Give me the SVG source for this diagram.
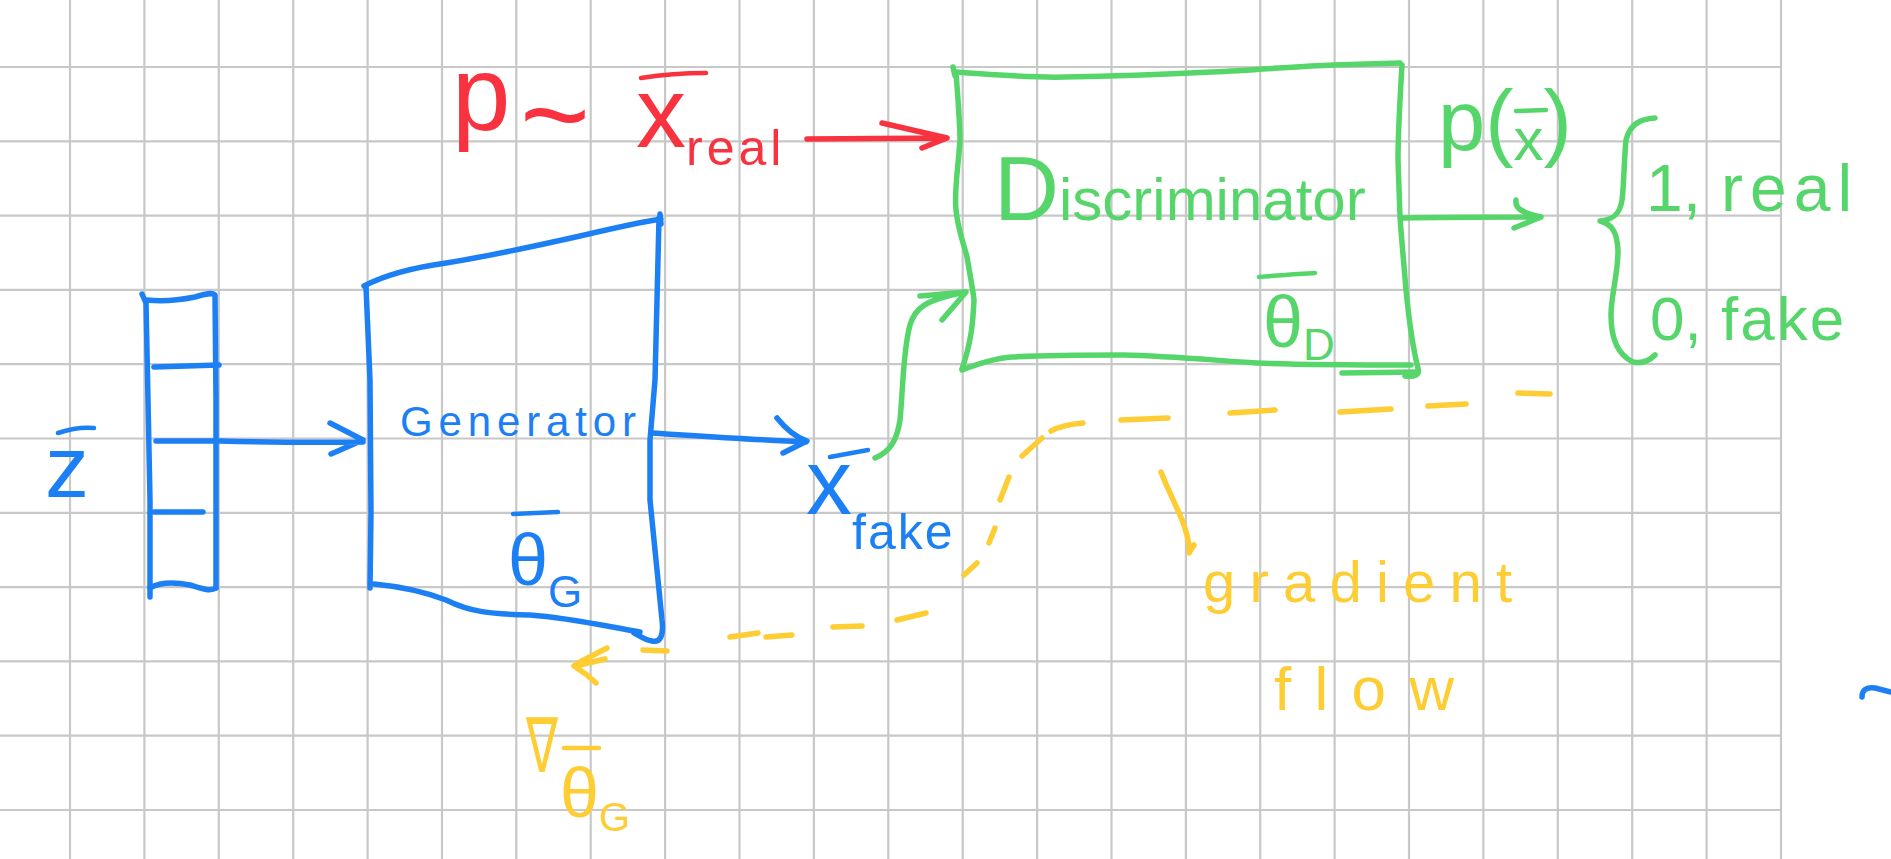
<svg xmlns="http://www.w3.org/2000/svg" width="1891" height="859" viewBox="0 0 1891 859">
<style>
.grid{stroke:#c8c8c8;stroke-width:2.2;fill:none}
.ln{fill:none;stroke-width:5.5;stroke-linecap:round;stroke-linejoin:round}
.blue{stroke:#1c80f4}
.red{stroke:#f8323f}
.green{stroke:#56d66a}
.yellow{stroke:#fdcd33}
.t{font-family:"Liberation Sans","DejaVu Sans",sans-serif;font-style:normal}
.tb{fill:#1c80f4}
.tr{fill:#f8323f}
.tg{fill:#56d66a}
.ty{fill:#fdcd33}
.bar{fill:none;stroke-width:4.5;stroke-linecap:round}
</style>
<rect width="1891" height="859" fill="#ffffff"/>
<g id="grid">
<path class="grid" d="M70,0V859M144.4,0V859M218.8,0V859M293.2,0V859M367.6,0V859M442,0V859M516.3,0V859M590.7,0V859M665.1,0V859M739.5,0V859M813.9,0V859M888.3,0V859M962.7,0V859M1037.1,0V859M1111.5,0V859M1185.9,0V859M1260.2,0V859M1334.6,0V859M1409,0V859M1483.4,0V859M1557.8,0V859M1632.2,0V859M1706.6,0V859M1781,0V859
M0,67H1781M0,141.3H1781M0,215.6H1781M0,289.9H1781M0,364.2H1781M0,438.5H1781M0,512.8H1781M0,587.1H1781M0,661.4H1781M0,735.7H1781M0,810H1781"/>
</g>

<g id="z-vector">
<path class="ln blue" d="M142,294 L146,303 L148,400 L150,500 L150,597"/>
<path class="ln blue" d="M147,300 C165,302 180,300 195,297 C205,294 212,292 215,295 L216,400 L216,500 L216,588"/>
<path class="ln blue" d="M150,588 C160,582 175,582 190,585 C200,588 210,592 216,588"/>
<path class="ln blue" d="M154,367 L219,365"/>
<path class="ln blue" d="M154,512 L203,512"/>
<path class="bar blue" d="M58,433 C70,429 82,427 94,428"/>
<text class="t tb" x="67" y="497" font-size="88" text-anchor="middle">z</text>
</g>

<g id="generator">
<path class="ln blue" d="M364,286 C385,275 410,268 446,263 C490,256 540,245 580,236 C610,229 640,222 661,219 M660,214 L661,224"/>
<path class="ln blue" d="M366,287 L370,380 L371,513 L370,588"/>
<path class="ln blue" d="M659,218 L657,300 L655,380 L650,440 L650,500 L656,560 L662,620 C664,636 660,643 652,641 C645,640 640,636 634,633"/>
<path class="ln blue" d="M374,584 C395,586 420,590 446,600 C470,612 490,614 530,615 C570,618 600,625 640,632"/>
<text class="t tb" x="400" y="436" font-size="42" textLength="236" lengthAdjust="spacing">Generator</text>
<path class="bar blue" d="M513,514 L558,512"/>
<text class="t tb" x="508" y="585" font-size="72">θ<tspan font-size="44" dy="22">G</tspan></text>
</g>

<g id="x-fake">
<path class="bar blue" d="M830,457 L868,450"/>
<text class="t tb" x="806" y="514" font-size="92">x<tspan font-size="50" dy="35" letter-spacing="2">fake</tspan></text>
</g>

<g id="x-real">
<text class="t tr" x="452" y="130" font-size="105">p</text>
<text class="t tr" x="520" y="156" font-size="120">~</text>
<path class="bar red" d="M641,78 C660,75 685,73 706,73"/>
<text class="t tr" x="636" y="147" font-size="100">x<tspan font-size="50" dy="18" letter-spacing="4">real</tspan></text>
</g>

<g id="discriminator">
<path class="ln green" d="M954,72 C1000,75 1030,78 1065,77 C1120,76 1170,74 1212,72 C1260,70 1300,66 1333,65 L1400,63 M953,67 L955,76"/>
<path class="ln green" d="M1402,65 C1400,100 1398,130 1398,160 L1400,217 C1402,245 1404,265 1406,290 C1409,320 1412,345 1418,368 C1420,375 1415,377 1405,376"/>
<path class="ln green" d="M962,370 C980,363 995,358 1012,357 C1050,355 1090,355 1123,355 C1170,356 1210,360 1257,363 C1300,365 1360,365 1411,365 M1342,373 L1416,372"/>
<path class="ln green" d="M956,72 C958,100 960,125 960,140 C958,170 954,190 956,210 C958,230 964,245 967,257 C971,280 974,297 974,300 C973,320 972,340 962,369"/>
<text class="t tg" x="994" y="220" font-size="60"><tspan font-size="90">D</tspan>iscriminator</text>
<path class="bar green" d="M1259,277 C1280,275 1300,274 1315,273"/>
<text class="t tg" x="1263" y="347" font-size="72">θ<tspan font-size="44" dy="13">D</tspan></text>
</g>

<g id="output">
<text class="t tg" x="1438" y="150" font-size="85">p(<tspan font-size="60" dy="10">x</tspan><tspan font-size="85" dy="-10">)</tspan></text>
<path class="bar green" d="M1516,111 L1546,110"/>
<path class="ln green" d="M1655,118 C1640,119 1630,124 1626,140 C1624,160 1624,185 1622,200 C1620,215 1612,220 1600,221 C1612,224 1617,232 1618,250 C1618,275 1611,295 1611,315 C1611,340 1618,355 1633,362 C1642,364 1650,360 1655,355"/>
<text class="t tg" x="1646" y="211" font-size="66">1, <tspan x="1721" letter-spacing="7">real</tspan></text>
<text class="t tg" x="1650" y="340" font-size="62">0, <tspan x="1721" letter-spacing="2">fake</tspan></text>
</g>

<g id="gradient-label">
<text class="t ty" x="1203" y="602" font-size="58" textLength="309" lengthAdjust="spacing">gradient</text>
<text class="t ty" x="1274" y="710" font-size="62" textLength="180" lengthAdjust="spacing">flow</text>
</g>

<g id="grad-theta-g">
<path class="bar yellow" d="M564,748 L599,748"/>
<text class="t ty" x="526" y="772" font-size="76"><tspan textLength="32" lengthAdjust="spacingAndGlyphs">∇</tspan><tspan x="560" y="817" font-size="70">θ</tspan><tspan font-size="40" dy="14">G</tspan></text>
</g>

<g id="connectors">
<path class="ln blue" d="M156,441 L220,441 C260,442 300,443 363,442 M330,423 L363,440 L331,454"/>
<path class="ln blue" d="M652,433 C700,436 760,440 806,442 M777,418 C785,428 795,437 807,441 L783,453"/>
<path class="ln green" d="M875,458 C890,452 897,440 900,420 C903,390 903,350 910,325 C915,308 925,300 965,292 M920,296 L966,292 L942,320"/>
<path class="ln red" d="M807,139 L947,138 M882,123 L947,138 L922,148"/>
<path class="ln green" d="M1402,218 C1450,217 1500,217 1541,217 M1516,200 C1515,208 1520,212 1541,217 L1514,228"/>
<path class="ln yellow" d="M1518,393 L1550,394 M1428,406 L1466,404 M1340,412 L1391,409 M1230,413 L1275,410 M1121,420 L1168,418 M1051,431 C1060,426 1070,424 1083,423 M1022,456 L1042,438 M1000,500 L1009,477 M989,543 L995,528 M964,575 L977,563 M897,620 L926,613 M833,627 L862,626 M766,637 L792,635 M730,637 L758,633 M643,650 L667,651"/>
<path class="ln yellow" d="M607,648 L578,663 L574,666 L587,675 L596,683 M605,659 L580,665"/>
<path class="ln yellow" d="M1161,472 C1168,490 1176,505 1182,520 C1187,533 1190,545 1189,553 L1194,545"/>
<path class="ln blue" stroke-width="7" d="M1862,697 C1862,690 1866,687 1875,688 L1891,692"/>
</g>
</svg>
